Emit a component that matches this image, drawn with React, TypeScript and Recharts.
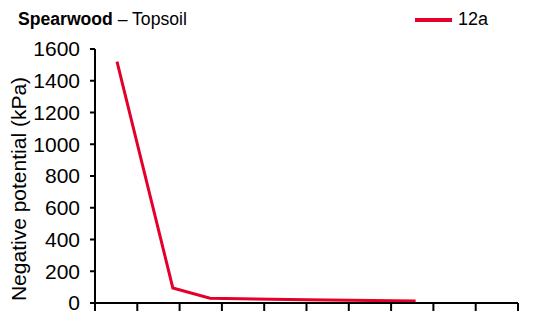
import { LineChart, Line, XAxis, YAxis, Label } from 'recharts';

const days = [0.52, 1.84, 2.72, 5.0, 7.58];
const potential = [1520, 95, 30, 20, 12];
const xTicks = [0, 1, 2, 3, 4, 5, 6, 7, 8, 9, 10];
const yTicks = [0, 200, 400, 600, 800, 1000, 1200, 1400, 1600];

const data = days.map((d, i) => ({ day: d, value: potential[i] }));

const RED = '#e4002b';
const FONT = '"Liberation Sans", Arial, sans-serif';

const YTitle = () => (
  <text
    x={18}
    y={189}
    transform="rotate(-90 18 189)"
    textAnchor="middle"
    dominantBaseline="central"
    fill="#000"
    fontSize={21}
    fontFamily={FONT}
  >
    Negative potential (kPa)
  </text>
);

export default function App() {
  return (
    <div style={{ position: 'absolute', left: 0, top: 0, width: 538, height: 316, fontFamily: FONT, background: '#fff' }}>
      <div style={{ position: 'absolute', left: 18, top: 9, fontSize: 17.6, color: '#000', whiteSpace: 'nowrap' }}>
        <b>Spearwood</b> – Topsoil
      </div>
      <div style={{ position: 'absolute', left: 415, top: 9, fontSize: 18, color: '#000', display: 'flex', alignItems: 'center' }}>
        <span style={{ display: 'inline-block', width: 37, height: 4, background: RED, marginRight: 6 }} />
        12a
      </div>
      <LineChart width={538} height={316} data={data} margin={{ top: 49, right: 20, bottom: 3, left: 0 }}>
        <XAxis
          dataKey="day"
          type="number"
          domain={[0, 10]}
          ticks={xTicks}
          tickFormatter={() => ''}
          height={10}
          tickSize={8}
          axisLine={{ stroke: '#000', strokeWidth: 2 }}
          tickLine={{ stroke: '#000', strokeWidth: 2 }}
        />
        <YAxis
          domain={[0, 1600]}
          ticks={yTicks}
          width={95}
          tickSize={5}
          tickMargin={10}
          interval={0}
          axisLine={{ stroke: '#000', strokeWidth: 2 }}
          tickLine={{ stroke: '#000', strokeWidth: 2 }}
          tick={{ fill: '#000', fontSize: 21, fontFamily: FONT }}
        >
          <Label content={<YTitle />} />
        </YAxis>
        <Line type="linear" dataKey="value" stroke={RED} strokeWidth={3} dot={false} isAnimationActive={false} />
      </LineChart>
    </div>
  );
}
